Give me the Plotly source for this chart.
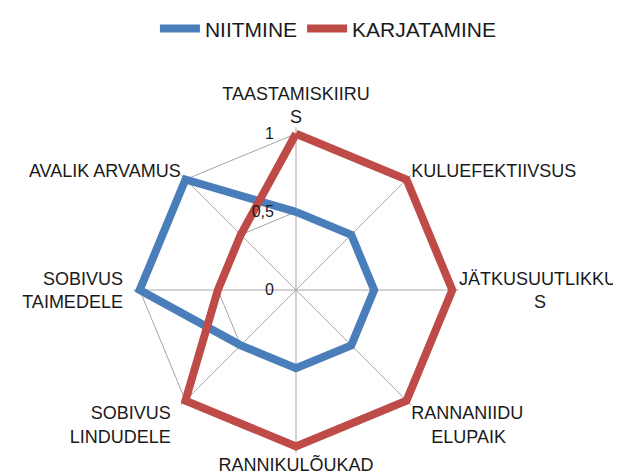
import plotly.graph_objects as go

categories = ["TAASTAMISKIIRU<br>S", "KULUEFEKTIIVSUS", "JÄTKUSUUTLIKKU<br>S", "RANNANIIDU<br>ELUPAIK",
              "RANNIKULÕUKAD", "SOBIVUS<br>LINDUDELE", "SOBIVUS<br>TAIMEDELE", "AVALIK ARVAMUS"]
niitmine = [0.5, 0.5, 0.5, 0.5, 0.5, 0.5, 1, 1]
karjatamine = [1, 1, 1, 1, 1, 1, 0.5, 0.5]
radial_ticks = [0, 0.5, 1]
radial_labels = ["0", "0,5", "1"]

# Centre the wrapped lines of the side labels (plotly start/end-anchors them)
NB = "\u00a0"
pad = {"JÄTKUSUUTLIKKU<br>S": ("", NB * 15),
       "RANNANIIDU<br>ELUPAIK": ("", NB * 4),
       "SOBIVUS<br>LINDUDELE": (NB * 2, ""),
       "SOBIVUS<br>TAIMEDELE": (NB * 2, "")}
ticktext = []
for c in categories:
    if c in pad:
        first, second = c.split("<br>")
        trail, lead = pad[c]
        ticktext.append(first + trail + "<br>" + lead + second + trail)
    else:
        ticktext.append(c)

fig = go.Figure()
fig.add_trace(go.Scatterpolar(r=niitmine + niitmine[:1], theta=categories + categories[:1],
                              mode="lines", name="NIITMINE",
                              line=dict(color="#4A7EBB", width=8)))
fig.add_trace(go.Scatterpolar(r=karjatamine + karjatamine[:1], theta=categories + categories[:1],
                              mode="lines", name="KARJATAMINE",
                              line=dict(color="#BE4B48", width=8)))

font = dict(family="Liberation Sans", size=18, color="#1a1a1a")
fig.update_layout(
    width=621, height=475,
    margin=dict(l=0, r=0, t=0, b=0),
    paper_bgcolor="white", plot_bgcolor="white",
    font=font,
    showlegend=True,
    legend=dict(orientation="h", x=0.516, xanchor="center", y=1.01, yanchor="top",
                font=dict(family="Liberation Sans", size=21, color="#1a1a1a"),
                itemwidth=40),
    polar=dict(
        domain=dict(x=[0.1992, 0.7283], y=[0.0646, 0.7564]),
        bgcolor="white",
        gridshape="linear",
        radialaxis=dict(range=[0, 1.04], tickvals=radial_ticks, ticktext=radial_labels,
                        angle=90, side="counterclockwise", showline=False,
                        ticks="outside", ticklen=16, tickcolor="rgba(0,0,0,0)", tickangle=90,
                        gridcolor="#A6A6A6", gridwidth=1,
                        tickfont=dict(family="Liberation Sans", size=16, color="#1a1a1a")),
        angularaxis=dict(rotation=90, direction="clockwise", showline=False,
                         tickmode="array", tickvals=categories, ticktext=ticktext,
                         gridcolor="#A6A6A6", gridwidth=1,
                         ticks="", tickfont=font),
    ),
)

fig.write_html("out.html")
